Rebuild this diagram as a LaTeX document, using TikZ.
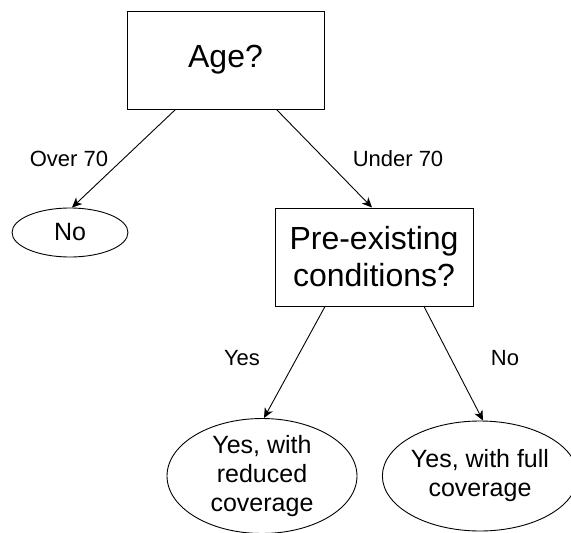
\documentclass[tikz,border=0pt]{standalone}
\usepackage{fontspec}
\setmainfont{Liberation Sans}
\usepackage{xcolor}
\definecolor{ColLine}{RGB}{0,0,0}
\definecolor{ColText}{RGB}{0,0,0}
\usepackage{tikz}
\usetikzlibrary{shapes}
\usetikzlibrary{shapes.geometric}
\usetikzlibrary{arrows.meta}
\tikzstyle{Box}=[rectangle,draw=ColLine,line width=1pt,inner sep=2pt,
align=center,text=ColText,font=\fontsize{32}{37}\selectfont]
\tikzstyle{Leaf}=[ellipse,draw=ColLine,line width=0.9pt,inner sep=0pt,
align=center,text=ColText,font=\fontsize{25}{29}\selectfont]
\tikzstyle{Edge}=[draw=ColLine,line width=0.9pt,
-{Stealth[length=10pt,width=9pt,inset=3pt]}]
\tikzstyle{EdgeLabel}=[font=\fontsize{22}{26}\selectfont,text=ColText]

\begin{document}
\begin{tikzpicture}[x=1pt,y=-1pt]
        \useasboundingbox(0,0)rectangle(571,533);
        \node[Box,minimum width=197pt,minimum height=98pt](age)at(225.5,60){Age?};
        \node[Leaf,minimum width=116pt,minimum height=49pt](no)at(70,232.5){No};
        \node[Box,minimum width=198pt,minimum height=98pt](cond)at(374,257)
            {Pre-existing\\conditions?};
        \node[Leaf,minimum width=190pt,minimum height=110pt](reduced)at(262,476)
            {Yes, with\\reduced\\coverage};
        \node[Leaf,minimum width=181pt,minimum height=110pt](full)at(480,476)
            {Yes, with full\\coverage};
        \draw[Edge]([xshift=-50pt]age.south)--([xshift=2pt]no.north);
        \draw[Edge]([xshift=51pt]age.south)--([xshift=-2pt]cond.north);
        \draw[Edge]([xshift=-49pt]cond.south)--([xshift=2pt]reduced.north);
        \draw[Edge]([xshift=50pt]cond.south)--([xshift=3pt]full.north);
        \node[EdgeLabel](over)at(69,159){Over 70};
        \node[EdgeLabel](under)at(398,159){Under 70};
        \node[EdgeLabel](yes)at(242,358){Yes};
        \node[EdgeLabel](nolabel)at(505,358){No};
    \end{tikzpicture}
\end{document}
